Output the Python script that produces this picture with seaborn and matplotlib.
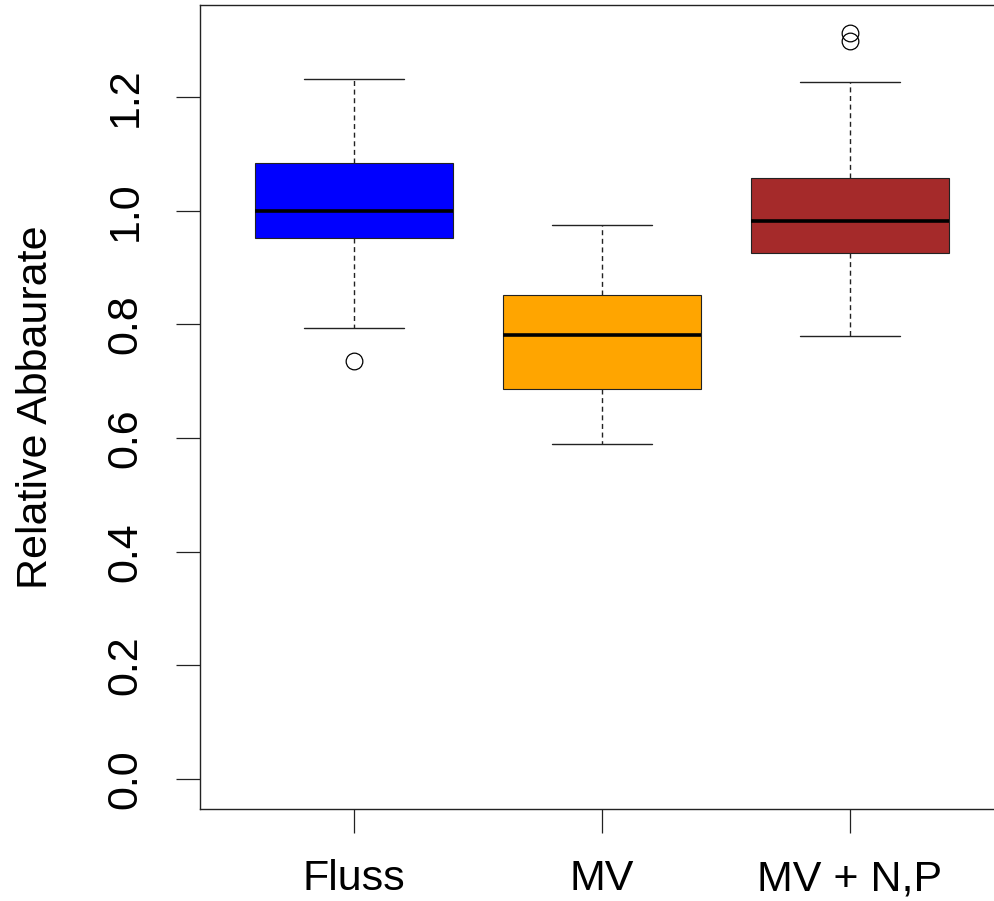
import matplotlib
matplotlib.use("Agg")
import matplotlib.pyplot as plt
import seaborn as sns
import pandas as pd

categories = ["Fluss", "MV", "MV + N,P"]
fluss_values = [0.736, 0.794, 0.88, 0.952, 0.97, 0.99, 1.0, 1.02, 1.05, 1.084, 1.12, 1.17, 1.232]
mv_values = [0.590, 0.63, 0.66, 0.687, 0.72, 0.75, 0.782, 0.80, 0.83, 0.852, 0.89, 0.93, 0.975]
mvnp_values = [0.780, 0.85, 0.90, 0.926, 0.95, 0.97, 0.982, 1.0, 1.03, 1.058, 1.227, 1.299, 1.313]
box_colors = ["#0000FF", "#FFA500", "#A52A2A"]
y_ticks = [0.0, 0.2, 0.4, 0.6, 0.8, 1.0, 1.2]
y_label = "Relative Abbaurate"

df = pd.DataFrame({
    "group": [categories[0]] * len(fluss_values) + [categories[1]] * len(mv_values) + [categories[2]] * len(mvnp_values),
    "value": fluss_values + mv_values + mvnp_values,
})

sns.set_style("white")
plt.rcParams["font.family"] = ["Liberation Sans", "DejaVu Sans"]
plt.rcParams["text.color"] = "black"
plt.rcParams["axes.labelcolor"] = "black"
plt.rcParams["xtick.color"] = "black"
plt.rcParams["ytick.color"] = "black"

fig = plt.figure(figsize=(9.94, 9.01), dpi=100)
ax = fig.add_axes([200 / 994, 92 / 901, 804 / 994, 804 / 901])

sns.boxplot(
    data=df, x="group", y="value", hue="group", order=categories, hue_order=categories,
    palette=box_colors, saturation=1, legend=False, width=0.8, whis=1.5,
    linecolor="black", linewidth=0.8, ax=ax,
    whiskerprops={"linestyle": (0, (3.6, 2.6)), "color": "#222222", "linewidth": 1.0},
    capprops={"color": "#222222", "linewidth": 1.0},
    medianprops={"color": "black", "linewidth": 2.6},
    flierprops={"marker": "o", "markerfacecolor": "none", "markeredgecolor": "black",
                "markersize": 12, "markeredgewidth": 0.9},
    boxprops={"edgecolor": "#222222", "linewidth": 0.8},
)

ax.set_xlim(-0.621, 2.621)
ax.set_ylim(-0.0527, 1.362)
ax.set_yticks(y_ticks)
ax.set_yticklabels([f"{t:.1f}" for t in y_ticks], rotation=90, va="center", fontsize=31)
ax.set_xticks(range(len(categories)))
ax.set_xticklabels(categories, fontsize=31)
ax.set_xlabel("")
ax.set_ylabel(y_label, fontsize=31, labelpad=36)
ax.tick_params(axis="both", direction="out", length=17, width=0.9, color="#222222",
               bottom=True, left=True, labelcolor="black")
ax.tick_params(axis="y", pad=22)
ax.tick_params(axis="x", pad=19)
for s in ax.spines.values():
    s.set_color("#222222")
    s.set_linewidth(1.0)
    s.set_visible(True)

fig.savefig("out.png", dpi=100)
